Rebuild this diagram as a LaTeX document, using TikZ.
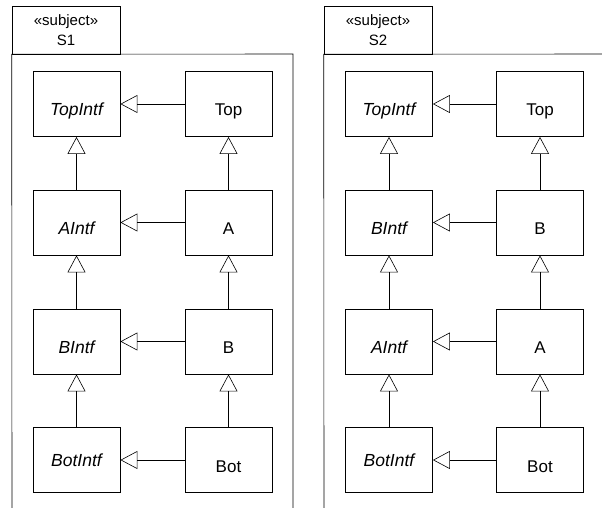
\documentclass[tikz,border=0pt]{standalone}
\usepackage{fontspec}
\setmainfont{Liberation Sans}
\usetikzlibrary{arrows.meta}
\tikzset{
  cls/.style={draw, line width=0.8pt, minimum width=87pt, minimum height=65pt,
    inner sep=0pt, text height=23pt, text depth=0pt, font=\fontsize{17}{19}\selectfont},
  intf/.style={cls, font=\fontsize{17.5}{19}\itshape},
  tab/.style={draw, line width=0.6pt, minimum width=108pt, minimum height=48pt,
    inner sep=0pt, align=center, font=\fontsize{15}{20}\selectfont},
  gen/.style={-{Triangle[open, width=18pt, length=17pt]}, line width=0.6pt}
}
\begin{document}
\begin{tikzpicture}[x=1pt, y=-1pt]
      \useasboundingbox (0,0) rectangle (602,508);
      % subject S1
      \node[tab] (s1) at (66,30) {«subject»\\S1};
      \draw[line width=0.6pt] (12,508) -- (s1.south west) -- (293,54) -- (293,508);
      \draw
        (76.5,104) node[intf] (ti1){TopIntf}
        (228.5,104) node[cls] (t1){Top}
        (76.5,222.5) node[intf] (ai1){AIntf}
        (228.5,222.5) node[cls] (a1){A}
        (76.5,341.5) node[intf] (bi1){BIntf}
        (228.5,341.5) node[cls] (b1){B}
        (76.5,460) node[intf, text height=12pt] (boti1){BotIntf}
        (228.5,460) node[cls, text height=24pt] (bot1){Bot};
      % subject S2
      \node[tab] (s2) at (378,30) {«subject»\\S2};
      \draw[line width=0.6pt] (324,508) -- (s2.south west) -- (602,54);
      \draw
        (389,104) node[intf] (ti2){TopIntf}
        (540,104) node[cls] (t2){Top}
        (389,222.5) node[intf] (bi2){BIntf}
        (540,222.5) node[cls] (b2){B}
        (389,341.5) node[intf] (ai2){AIntf}
        (540,341.5) node[cls] (a2){A}
        (389,460) node[intf, text height=12pt] (boti2){BotIntf}
        (540,460) node[cls, text height=24pt] (bot2){Bot};
      \begin{scope}[gen]
        \draw (t1) to (ti1);
        \draw (a1) to (ai1);
        \draw (b1) to (bi1);
        \draw (bot1) to (boti1);
        \draw (ai1) to (ti1);
        \draw (bi1) to (ai1);
        \draw (boti1) to (bi1);
        \draw (a1) to (t1);
        \draw (b1) to (a1);
        \draw (bot1) to (b1);
        \draw (t2) to (ti2);
        \draw (b2) to (bi2);
        \draw (a2) to (ai2);
        \draw (bot2) to (boti2);
        \draw (bi2) to (ti2);
        \draw (ai2) to (bi2);
        \draw (boti2) to (ai2);
        \draw (b2) to (t2);
        \draw (a2) to (b2);
        \draw (bot2) to (a2);
      \end{scope}
    \end{tikzpicture}
\end{document}
